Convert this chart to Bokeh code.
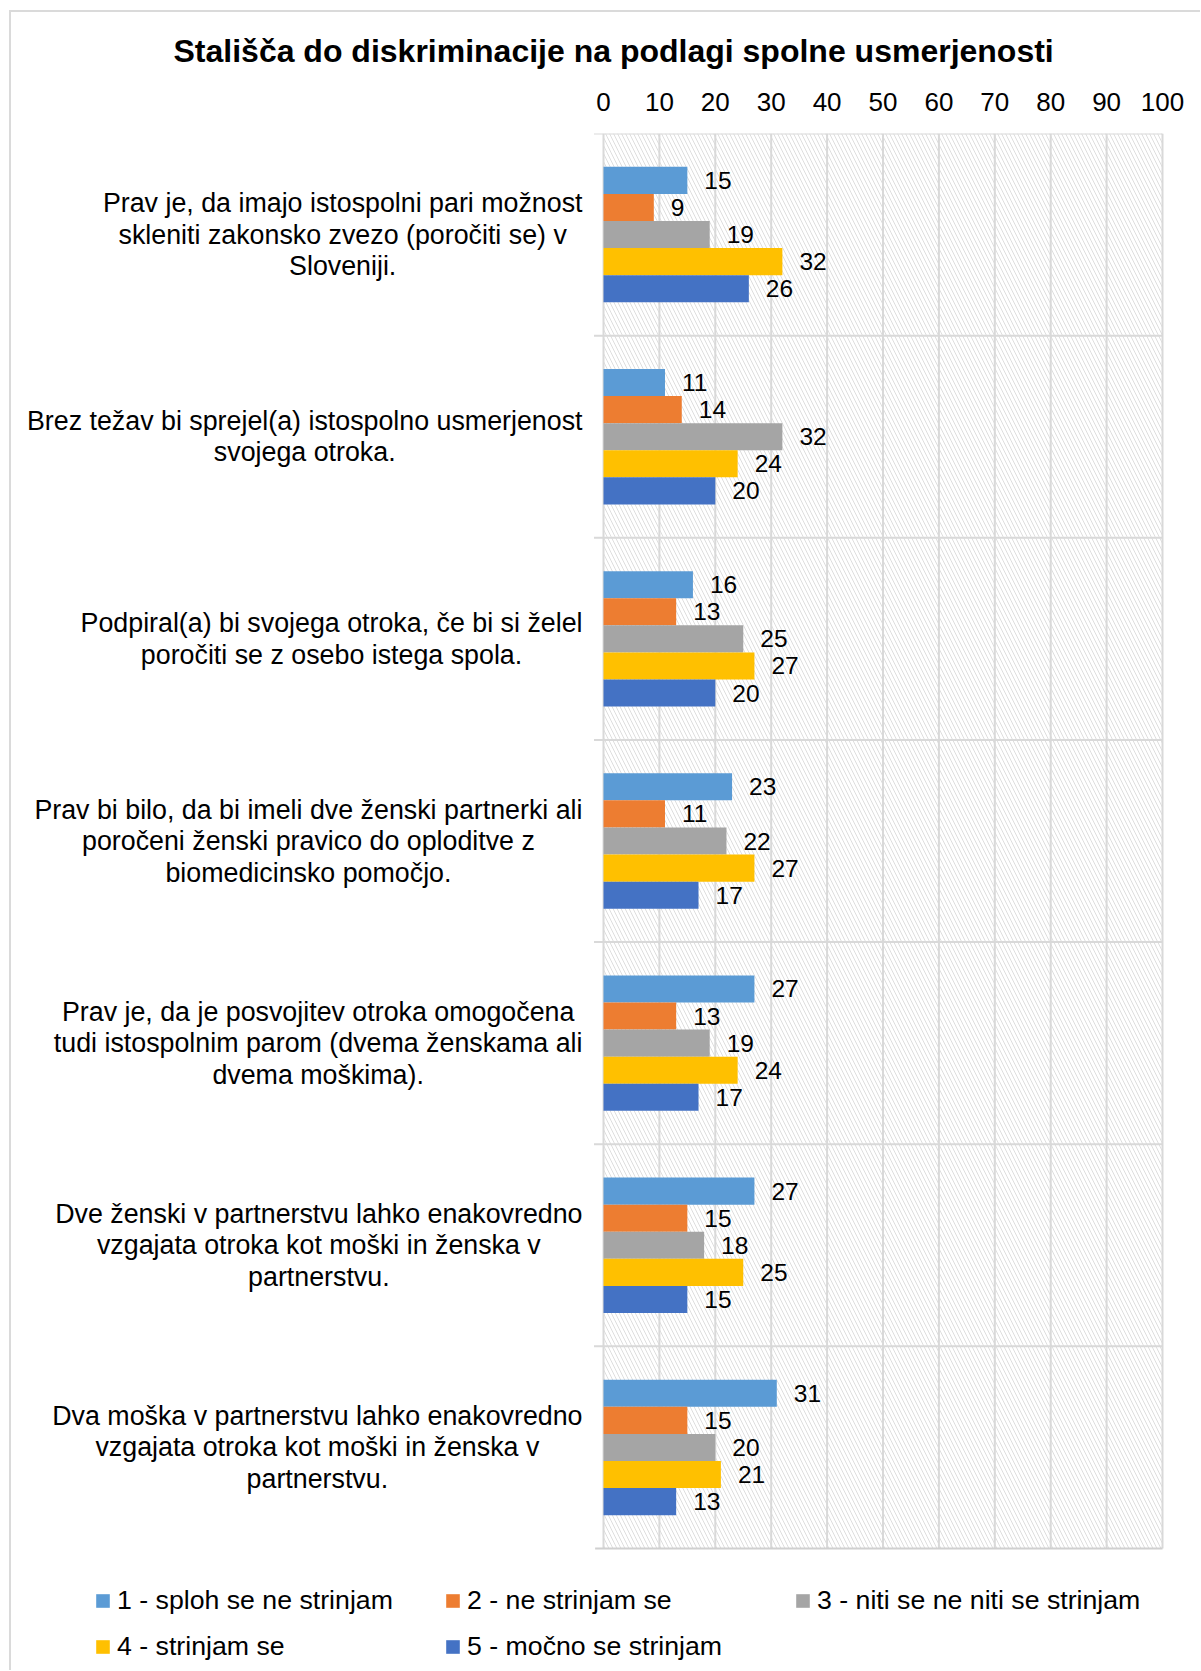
from bokeh.plotting import figure
from bokeh.models import Range1d, FixedTicker, Legend, LegendItem, ColumnDataSource, Label
from bokeh.core.properties import value
from bokeh.embed import file_html
from bokeh.resources import INLINE

# ---------------- data ----------------
page_caption = "Graf št. 7"
chart_title = "Stališča do diskriminacije na podlagi spolne usmerjenosti"
categories = [
    "Prav je, da imajo istospolni pari možnost\nskleniti zakonsko zvezo (poročiti se) v\nSloveniji.",
    "Brez težav bi sprejel(a) istospolno usmerjenost\nsvojega otroka.",
    "Podpiral(a) bi svojega otroka, če bi si želel\nporočiti se z osebo istega spola.",
    "Prav bi bilo, da bi imeli dve ženski partnerki ali\nporočeni ženski pravico do oploditve z\nbiomedicinsko pomočjo.",
    "Prav je, da je posvojitev otroka omogočena\ntudi istospolnim parom (dvema ženskama ali\ndvema moškima).",
    "Dve ženski v partnerstvu lahko enakovredno\nvzgajata otroka kot moški in ženska v\npartnerstvu.",
    "Dva moška v partnerstvu lahko enakovredno\nvzgajata otroka kot moški in ženska v\npartnerstvu.",
]
series_names = [
    "1 - sploh se ne strinjam",
    "2 - ne strinjam se",
    "3 - niti se ne niti se strinjam",
    "4 - strinjam se",
    "5 - močno se strinjam",
]
s1 = [15, 11, 16, 23, 27, 27, 31]
s2 = [9, 14, 13, 11, 13, 15, 15]
s3 = [19, 32, 25, 22, 19, 18, 20]
s4 = [32, 24, 27, 27, 24, 25, 21]
s5 = [26, 20, 20, 17, 17, 15, 13]
series = [s1, s2, s3, s4, s5]
ticks = [0, 10, 20, 30, 40, 50, 60, 70, 80, 90, 100]
colors = ["#5B9BD5", "#ED7D31", "#A5A5A5", "#FFC000", "#4472C4"]

# ---------------- layout ----------------
FONT = "Liberation Sans"
W, H = 1200, 1670
MB_L, MB_R, MB_T, MB_B = 16, 28, 133, 0
frame_w = W - MB_L - MB_R
frame_h = H - MB_T - MB_B
zero_px = 587.0          # frame pixel of value 0
px_per_unit = 5.59       # pixels per percentage point
plot_h_px = 1415.0       # height of the plotting area
n = len(categories)
unit_px = plot_h_px / n
x_start = -zero_px / px_per_unit
x_end = x_start + frame_w / px_per_unit
y_end = float(n)
y_start = n - frame_h / unit_px

p = figure(width=W, height=H,
           x_range=Range1d(x_start, x_end), y_range=Range1d(y_start, y_end),
           x_axis_location="above", y_axis_location=None,
           toolbar_location=None, output_backend="svg",
           min_border_left=MB_L, min_border_right=MB_R,
           min_border_top=MB_T, min_border_bottom=MB_B)
p.outline_line_color = None
p.background_fill_color = "white"
p.border_fill_color = None
p.xgrid.visible = False
p.ygrid.visible = False
# outer chart border (left and top edges)
p.styles = {"box-shadow": "inset 9px 10px 0 0 #ffffff, inset 11px 12px 0 0 #dadada"}

# title
p.title.text = chart_title
p.title.align = "left"
p.title.offset = 157
p.title.standoff = 42
p.title.text_font = FONT
p.title.text_font_size = "32px"
p.title.text_font_style = "bold"
p.title.text_color = "black"

# top value axis
ax = p.xaxis[0]
ax.ticker = FixedTicker(ticks=ticks)
ax.axis_line_color = None
ax.major_tick_line_color = None
ax.minor_tick_line_color = None
ax.major_label_standoff = 17
ax.major_label_text_font = FONT
ax.major_label_text_font_size = "26px"
ax.major_label_text_color = "black"

lo, hi = ticks[0], ticks[-1]
grid_col = "#d9d9d9"

# hatched plot area
p.quad(left=lo, right=hi, bottom=0, top=n, fill_color="white", line_color=None,
       hatch_pattern="\\", hatch_color="#dedede", hatch_scale=8, hatch_weight=1.0)

# vertical gridlines
p.segment(x0=ticks, y0=[0] * len(ticks), x1=ticks, y1=[n] * len(ticks),
          line_color=grid_col, line_width=2)
# category separators (with outside tick marks)
bounds = list(range(1, n + 1))
p.segment(x0=[-1.7] * len(bounds), y0=bounds, x1=[hi] * len(bounds), y1=bounds,
          line_color=grid_col, line_width=2)
# category axis line
p.segment(x0=[-1.5], y0=[0], x1=[hi], y1=[0], line_color="#d0d0d0", line_width=2)

# bars
bar_h = 0.134
centers = [n - 0.5 - i for i in range(n)]
items = []
for j, (name, vals, col) in enumerate(zip(series_names, series, colors)):
    ys = [c + (2 - j) * bar_h for c in centers]
    src = ColumnDataSource(dict(y=ys, v=vals, t=[str(v) for v in vals]))
    r = p.hbar(y="y", left=0, right="v", height=bar_h, fill_color=col,
               line_color=None, source=src)
    p.text(x="v", y="y", text="t", source=src, x_offset=17,
           text_align="left", text_baseline="middle",
           text_font=value(FONT), text_font_size="24.5px", text_color="black")
    items.append(LegendItem(label=name, renderers=[r]))

# category labels
cat_src = ColumnDataSource(dict(x=[0] * n, y=centers, t=categories))
p.text(x="x", y="y", text="t", source=cat_src, x_offset=-21,
       anchor=value("center_right"), text_align="center", text_baseline="middle",
       text_line_height=1.05, text_font=value(FONT), text_font_size="26.8px",
       text_color="black")

legend = Legend(items=items, location=(78, 8.5), orientation="horizontal", ncols=3,
                glyph_width=17, glyph_height=17, label_standoff=6,
                label_width=312, label_height=30, spacing=15, padding=0, margin=0,
                border_line_color=None, background_fill_alpha=0,
                label_text_font=FONT, label_text_font_size="26.7px",
                label_text_color="black")
p.add_layout(legend)

# page caption, cut off at the top edge like in the original
cap_x = x_start - MB_L / px_per_unit
cap_y = y_end + (MB_T - 4) / unit_px
p.add_layout(Label(x=cap_x, y=cap_y, text=page_caption, text_font=FONT,
                   text_font_size="26.6px", text_color="#262626",
                   text_baseline="alphabetic", text_align="left"))

open("out.html", "w").write(file_html(p, INLINE))
